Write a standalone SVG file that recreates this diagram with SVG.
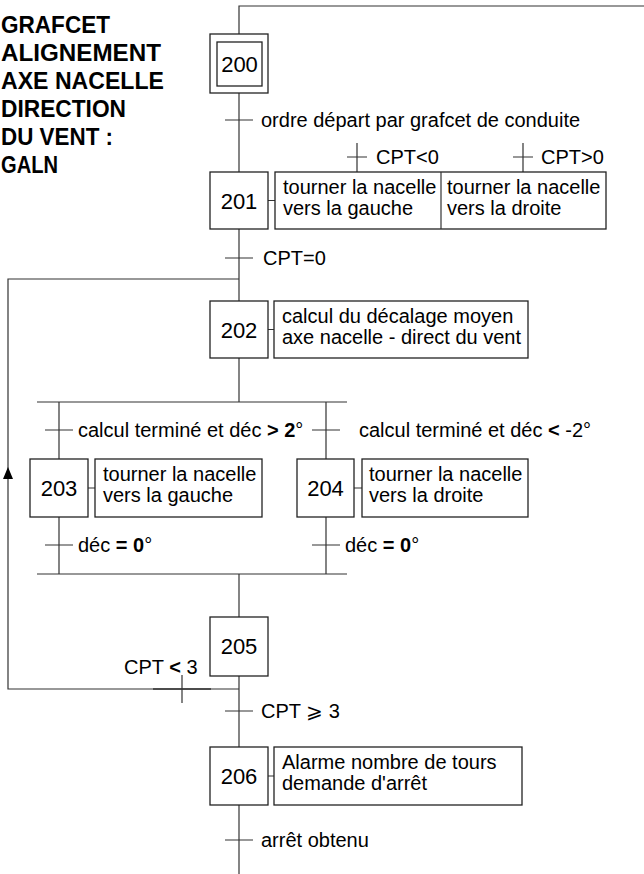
<svg xmlns="http://www.w3.org/2000/svg" width="644" height="874" viewBox="0 0 644 874">
<style>
text{font-family:"Liberation Sans",Arial,sans-serif;fill:#000}
.t{font-size:20px}
.n{font-size:22px;text-anchor:middle}
.title{font-size:23px;font-weight:bold}
.box{fill:#fff;stroke:#222;stroke-width:1.3}
.ln{fill:none;stroke:#333;stroke-width:1.2}
.b{font-weight:bold}
.arrow{fill:#000}
</style>
<g id="title">
<text class="title" x="1" y="33" textLength="109" lengthAdjust="spacingAndGlyphs">GRAFCET</text>
<text class="title" x="1" y="61" textLength="160" lengthAdjust="spacingAndGlyphs">ALIGNEMENT</text>
<text class="title" x="1" y="89" textLength="163" lengthAdjust="spacingAndGlyphs">AXE NACELLE</text>
<text class="title" x="1" y="117" textLength="125" lengthAdjust="spacingAndGlyphs">DIRECTION</text>
<text class="title" x="1" y="145" textLength="112" lengthAdjust="spacingAndGlyphs">DU VENT :</text>
<text class="title" x="1" y="173" textLength="57" lengthAdjust="spacingAndGlyphs">GALN</text>
</g>
<g id="connectors" class="ln">
<path d="M239 34 V6 H644"/>
<path d="M239 93 V172"/>
<path d="M239 229 V301"/>
<path d="M239 358 V402"/>
<path d="M37 402 H347"/>
<path d="M59 402 V459 M59 517 V574"/>
<path d="M326 402 V459 M326 517 V574"/>
<path d="M37 574 H347"/>
<path d="M239 574 V617"/>
<path d="M239 676 V747"/>
<path d="M239 805 V874"/>
<path d="M239 279 H8 V689 H239"/>
<path d="M268 200.5 H275 M268 329.5 H274 M88 488 H95 M354 488 H362 M268 776 H274"/>
<path d="M225 120 H253 M225 258 H253 M45 430 H73 M312 430 H340 M45 545 H73 M312 545 H340 M225 711 H253 M225 840 H253"/>
<path d="M357 143 V172 M347 157 H367 M523 143 V172 M513 157 H533"/>
<path d="M182 675 V703"/>
<path d="M153 689 H211" stroke-width="1.6"/>
<path class="arrow" d="M8 467 L3 479 L13 479 Z" stroke="none"/>
</g>
<g id="s200">
<rect class="box" x="210" y="34" width="58" height="59"/>
<rect class="box" x="217" y="42" width="45" height="44"/>
<text class="n" x="239.5" y="72">200</text>
</g>
<g id="t200">
<text class="t" x="261" y="127">ordre départ par grafcet de conduite</text>
</g>
<g id="s201">
<rect class="box" x="210" y="172" width="58" height="57"/>
<text class="n" x="239" y="208.5">201</text>
<rect class="box" x="275" y="172" width="331" height="57"/>
<path class="ln" d="M441 172 V229"/>
<text class="t" x="283" y="194">tourner la nacelle</text>
<text class="t" x="283" y="215">vers la gauche</text>
<text class="t" x="447" y="194">tourner la nacelle</text>
<text class="t" x="447" y="215">vers la droite</text>
<text class="t" x="376" y="164">CPT&lt;0</text>
<text class="t" x="541" y="164">CPT&gt;0</text>
</g>
<g id="t201">
<text class="t" x="263" y="265">CPT=0</text>
</g>
<g id="s202">
<rect class="box" x="210" y="301" width="58" height="57"/>
<text class="n" x="239" y="337.5">202</text>
<rect class="box" x="274" y="301" width="254" height="57"/>
<text class="t" x="282" y="323">calcul du décalage moyen</text>
<text class="t" x="282" y="344">axe nacelle - direct du vent</text>
</g>
<g id="t202a">
<text class="t" x="78" y="437">calcul terminé et déc <tspan class="b">&gt; 2</tspan>°</text>
</g>
<g id="t202b">
<text class="t" x="359" y="437">calcul terminé et déc <tspan class="b">&lt;</tspan> -2°</text>
</g>
<g id="s203">
<rect class="box" x="30" y="459" width="58" height="58"/>
<text class="n" x="59" y="496">203</text>
<rect class="box" x="95" y="459" width="167" height="58"/>
<text class="t" x="103" y="481">tourner la nacelle</text>
<text class="t" x="103" y="502">vers la gauche</text>
</g>
<g id="s204">
<rect class="box" x="297" y="459" width="57" height="58"/>
<text class="n" x="325.5" y="496">204</text>
<rect class="box" x="362" y="459" width="166" height="58"/>
<text class="t" x="369" y="481">tourner la nacelle</text>
<text class="t" x="369" y="502">vers la droite</text>
</g>
<g id="t203">
<text class="t" x="78" y="552">déc <tspan class="b">= 0</tspan>°</text>
</g>
<g id="t204">
<text class="t" x="345" y="552">déc <tspan class="b">= 0</tspan>°</text>
</g>
<g id="s205">
<rect class="box" x="210" y="617" width="58" height="59"/>
<text class="n" x="239" y="654">205</text>
</g>
<g id="t205a">
<text class="t" x="124" y="674">CPT <tspan class="b">&lt;</tspan> 3</text>
</g>
<g id="t205b">
<text class="t" x="261" y="718">CPT ⩾ 3</text>
</g>
<g id="s206">
<rect class="box" x="210" y="747" width="58" height="58"/>
<text class="n" x="239" y="784">206</text>
<rect class="box" x="274" y="747" width="248" height="58"/>
<text class="t" x="282" y="769">Alarme nombre de tours</text>
<text class="t" x="282" y="790">demande d'arrêt</text>
</g>
<g id="t206">
<text class="t" x="261" y="847">arrêt obtenu</text>
</g>
</svg>
